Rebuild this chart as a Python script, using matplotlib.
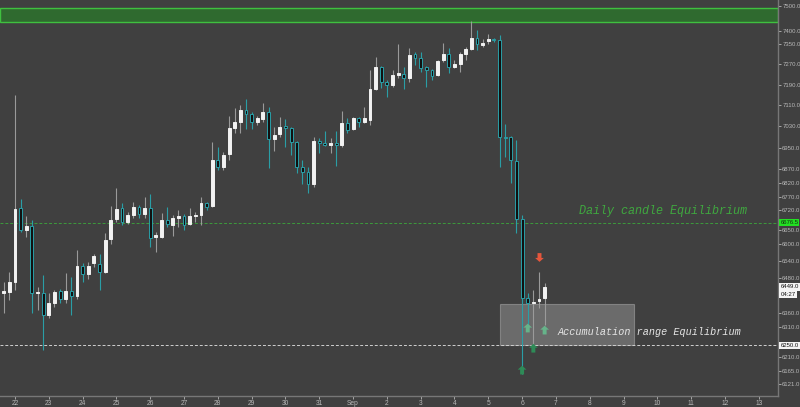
import numpy as np
import matplotlib.pyplot as plt
from matplotlib.ticker import NullLocator
from matplotlib.patches import Rectangle

plt.rcParams['font.family'] = ['Liberation Sans Narrow', 'Liberation Sans', 'DejaVu Sans']

# 4h candles, x axis in days after Aug 22 00:00, first bar is Aug 21 16:00
first_bar = -2
opens = [6427, 6431, 6465, 6728, 6649, 6663, 6427, 6427, 6351, 6393,
         6434, 6406, 6434, 6417, 6521, 6494, 6532, 6528, 6500, 6617,
         6688, 6728, 6677, 6702, 6731, 6706, 6728, 6623, 6623, 6685,
         6667, 6691, 6699, 6670, 6699, 6702, 6746, 6735, 6904, 6877,
         6926, 7023, 7046, 7092, 7076, 7046, 7057, 7084, 6982, 7001,
         7031, 7023, 6971, 6877, 6860, 6815, 6974, 6966, 6960, 6966,
         6960, 7042, 7020, 7062, 7046, 7054, 7172, 7258, 7199, 7188,
         7227, 7230, 7215, 7309, 7293, 7258, 7246, 7227, 7285, 7309,
         7258, 7269, 7309, 7328, 7371, 7344, 7359, 7367, 7364, 6990,
         6990, 6900, 6688, 6410, 6393, 6399, 6410]
highs = [6465, 6500, 7149, 6760, 6699, 6685, 6448, 6490, 6427, 6438,
         6441, 6497, 6482, 6577, 6532, 6535, 6564, 6564, 6638, 6735,
         6801, 6746, 6714, 6749, 6738, 6768, 6778, 6641, 6710, 6731,
         6702, 6720, 6706, 6728, 6714, 6768, 6749, 6971, 6952, 6934,
         7068, 7099, 7111, 7134, 7084, 7068, 7118, 7103, 7027, 7065,
         7057, 7027, 6974, 6904, 6877, 6990, 6985, 7012, 6985, 7012,
         7088, 7062, 7065, 7065, 7103, 7246, 7296, 7261, 7207, 7246,
         7347, 7258, 7332, 7316, 7316, 7261, 7250, 7285, 7352, 7332,
         7285, 7316, 7336, 7439, 7403, 7367, 7387, 7371, 7384, 7038,
         6993, 6978, 6702, 6427, 6438, 6500, 6462]
lows = [6358, 6403, 6438, 6641, 6623, 6358, 6369, 6233, 6341, 6379,
        6393, 6393, 6351, 6406, 6465, 6476, 6518, 6438, 6497, 6599,
        6677, 6667, 6670, 6691, 6691, 6691, 6589, 6571, 6620, 6659,
        6628, 6659, 6649, 6667, 6677, 6667, 6720, 6731, 6866, 6866,
        6904, 7004, 7004, 7020, 7020, 7035, 7046, 6874, 6937, 6990,
        6952, 6922, 6855, 6815, 6783, 6804, 6930, 6956, 6930, 6882,
        6952, 7004, 7016, 7027, 7042, 7035, 7168, 7176, 7141, 7180,
        7215, 7172, 7199, 7265, 7238, 7180, 7207, 7222, 7277, 7234,
        7253, 7238, 7285, 7324, 7324, 7336, 7347, 7356, 6877, 6915,
        6818, 6638, 6155, 6317, 6250, 6376, 6317]
closes = [6434, 6465, 6724, 6649, 6663, 6427, 6431, 6351, 6393, 6431,
          6406, 6434, 6417, 6521, 6494, 6521, 6556, 6500, 6613, 6685,
          6724, 6677, 6702, 6731, 6706, 6728, 6620, 6631, 6685, 6670,
          6691, 6699, 6667, 6699, 6702, 6746, 6731, 6904, 6877, 6922,
          7023, 7046, 7092, 7076, 7046, 7062, 7084, 6982, 6996, 7027,
          7023, 6971, 6877, 6860, 6815, 6974, 6966, 6960, 6966, 6960,
          7042, 7016, 7062, 7046, 7062, 7172, 7258, 7199, 7188, 7227,
          7234, 7215, 7304, 7293, 7253, 7246, 7222, 7281, 7309, 7258,
          7269, 7309, 7328, 7371, 7347, 7352, 7367, 7364, 6990, 6985,
          6904, 6688, 6410, 6393, 6396, 6406, 6449]

day_ticks = list(range(23))
day_labels = ['22', '23', '24', '25', '26', '27', '28', '29', '30', '31', 'Sep',
              '2', '3', '4', '5', '6', '7', '8', '9', '10', '11', '12', '13']

price_ticks = [7500, 7400, 7350, 7270, 7190, 7110, 7030, 6950, 6870, 6820, 6770,
               6720, 6650, 6600, 6540, 6480, 6360, 6310, 6210, 6165, 6121]

# levels / drawings
band_low, band_high = 7435, 7492
daily_eq = 6676
accum_eq = 6250
zone_start, zone_end = 14.35, 18.31
zone_low, zone_high = 6250, 6390

# signal arrows: bar index, price, colour
arrow_bars = [90, 91, 92, 94]
arrow_prices = [6167, 6308, 6240, 6301]
arrow_cols = ['#2e8b57', '#66b38a', '#2e8b57', '#66b38a']
sell_bar, sell_price = 93, 6553

bg = '#404040'
teal = '#2a9ea6'

x = (np.arange(len(opens)) + first_bar) / 6
o = np.array(opens)
c = np.array(closes)
up = c >= o

fig = plt.figure(figsize=(8, 4.07), dpi=100)
fig.patch.set_facecolor(bg)
ax = fig.add_axes([0, 0.027, 0.9725, 0.973])
ax.set_facecolor(bg)
ax.set_yscale('log')
ax.set_xlim(-0.444, 22.57)
ax.set_ylim(6081.6, 7524.6)

# green resistance band
ax.axhspan(band_low, band_high, facecolor='#2f6a2f', edgecolor='#3fc03f', linewidth=1.0, zorder=1)

# accumulation box
ax.add_patch(Rectangle((zone_start, zone_low), zone_end - zone_start, zone_high - zone_low,
                       facecolor='#909090', edgecolor='#a8a8a8', alpha=0.55, linewidth=0.8, zorder=1))

ax.axhline(daily_eq, color='#3c9a3c', linestyle=(0, (3, 2)), linewidth=0.7, zorder=2)
ax.axhline(accum_eq, color='#d0d0d0', linestyle=(0, (3, 2)), linewidth=0.7, zorder=2)

wick_cols = np.where(up, '#9a9a9a', teal)
ax.vlines(x, lows, highs, colors=wick_cols, linewidth=0.8, zorder=3)
ax.bar(x, np.abs(c - o), bottom=np.minimum(o, c), width=0.085,
       color=np.where(up, '#f2f2f2', '#111111'),
       edgecolor=np.where(up, '#f2f2f2', teal), linewidth=0.7, zorder=4)

arrow_up = [(0, 1), (-1, 0.1), (-0.45, 0.1), (-0.45, -1), (0.45, -1), (0.45, 0.1), (1, 0.1), (0, 1)]
arrow_dn = [(vx, -vy) for vx, vy in arrow_up]
ax.scatter(x[np.array(arrow_bars) - first_bar], arrow_prices, marker=arrow_up, s=40,
           c=arrow_cols, linewidths=0, zorder=5)
ax.scatter([x[sell_bar - first_bar]], [sell_price], marker=arrow_dn, s=40,
           c='#e5563c', linewidths=0, zorder=5)

ax.text(16.69, 6718, 'Daily candle Equilibrium', color='#3fa83f', fontsize=8.5,
        family='Liberation Mono', style='italic', va='center', zorder=6)
ax.text(16.04, 6294, 'Accumulation range Equilibrium', color='#e6e6e6', fontsize=7.3,
        family='Liberation Mono', style='italic', va='center', zorder=6)

# axes styling
for s in ['top', 'left']:
    ax.spines[s].set_visible(False)
for s in ['right', 'bottom']:
    ax.spines[s].set_color('#777777')
    ax.spines[s].set_linewidth(1.0)

ax.set_xticks(day_ticks, day_labels)
ax.yaxis.tick_right()
ax.set_yticks(price_ticks, [f'{p:.1f}' for p in price_ticks])
ax.yaxis.set_minor_locator(NullLocator())
ax.tick_params(axis='x', labelsize=4.8, colors='#b8b8b8', length=2, width=0.6, pad=1.2)
ax.tick_params(axis='y', labelsize=4.3, colors='#b8b8b8', length=2, width=0.6, pad=1.0)

# price labels on the right scale
yt = ax.get_yaxis_transform()
lab = dict(transform=yt, fontsize=4.3, va='center', clip_on=False, zorder=7)
ax.text(1.003, daily_eq, '6676.5', color='#103010',
        bbox=dict(facecolor='#22e022', edgecolor='none', pad=0.8), **lab)
ax.text(1.003, closes[-1], f'{closes[-1]:.1f}', color='#111111',
        bbox=dict(facecolor='#f4f4f4', edgecolor='none', pad=0.8), **lab)
ax.text(1.003, 6424, '04:27', color='#111111',
        bbox=dict(facecolor='#f4f4f4', edgecolor='none', pad=0.8), **lab)
ax.text(1.003, accum_eq, f'{accum_eq:.1f}', color='#111111',
        bbox=dict(facecolor='#f4f4f4', edgecolor='none', pad=0.8), **lab)

fig.savefig('out.png', dpi=100, facecolor=bg)
